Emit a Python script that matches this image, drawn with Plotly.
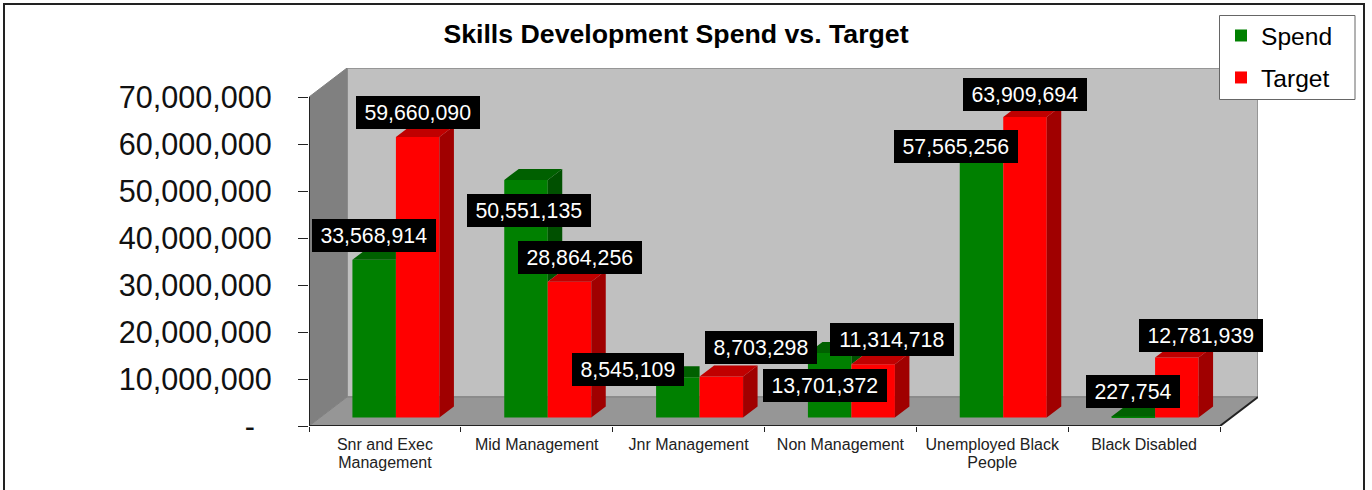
import plotly.graph_objects as go

categories = ["Snr and Exec<br>Management", "Mid Management", "Jnr Management",
              "Non Management", "Unemployed Black<br>People", "Black Disabled"]
spend = [33568914, 50551135, 8545109, 13701372, 57565256, 227754]
target = [59660090, 28864256, 8703298, 11314718, 63909694, 12781939]
y_ticks = [0, 10000000, 20000000, 30000000, 40000000, 50000000, 60000000, 70000000]
y_tick_labels = ["-\u00a0\u00a0", "10,000,000", "20,000,000", "30,000,000", "40,000,000",
                 "50,000,000", "60,000,000", "70,000,000"]

# label offsets from the front-top centre of each bar, in pixels (dx right, dy down)
spend_label_shift = [(0, -24), (2.5, 30.5), (-50, -8), (-5, 32.5), (-26, 0), (0, -25)]
target_label_shift = [(0, -24.5), (10, -24), (40, -29), (19.3, -25), (0, -23), (24, -22)]

W, H = 1372, 490
L, R, T, B = 309, 1258, 68, 426
CAT_PX = (1220 - 309) / 6
PX_PER_VAL = 47 / 1e7
DEPTH_X, DEPTH_Y = 38, 29
ux = lambda px: px / CAT_PX
uy = lambda px: px / PX_PER_VAL
x0 = -0.5
x_end = 5.5
DX, DY = ux(DEPTH_X), uy(DEPTH_Y)
BAR_W = ux(43.5)
FX, FY = ux(11), uy(8.5)      # bar front plane
SX, SY = ux(14.5), uy(11)     # bar depth
TOP = 7e7

RED, RED_SIDE, RED_TOP = "#ff0000", "#a00000", "#c00000"
GRN, GRN_SIDE, GRN_TOP = "#008000", "#005000", "#006000"
FONT = "Liberation Sans"

xs = list(range(6))
fig = go.Figure()
fig.add_bar(x=xs, y=spend, base=FY, width=BAR_W, offset=FX - BAR_W, marker=dict(color=GRN, line_width=0),
            name="Spend", legendgroup="a")
fig.add_bar(x=xs, y=target, base=FY, width=BAR_W, offset=FX, marker=dict(color=RED, line_width=0),
            name="Target", legendgroup="b")


def poly_trace(polys, color):
    px, py = [], []
    for p in polys:
        px += [a for a, _ in p] + [p[0][0], None]
        py += [b for _, b in p] + [p[0][1], None]
    fig.add_scatter(x=px, y=py, mode="lines", fill="toself", fillcolor=color,
                    line=dict(width=0, color=color), showlegend=False, hoverinfo="skip")


g_side, g_top, r_side, r_top = [], [], [], []
for i, (g, r) in enumerate(zip(spend, target)):
    gl, m, rr = i + FX - BAR_W, i + FX, i + FX + BAR_W
    gy, ry = g + FY, r + FY
    if g > r:
        g_side.append([(m, gy), (m + SX, gy + SY), (m + SX, ry + SY), (m, ry)])
        g_top.append([(gl, gy), (m, gy), (m + SX, gy + SY), (gl + SX, gy + SY)])
    else:
        g_top.append([(gl, gy), (m, gy), (m, gy + SY), (gl + SX, gy + SY)])
    r_side.append([(rr, FY), (rr + SX, FY + SY), (rr + SX, ry + SY), (rr, ry)])
    r_top.append([(m, ry), (rr, ry), (rr + SX, ry + SY), (m + SX, ry + SY)])

poly_trace(g_side, GRN_SIDE)
poly_trace(g_top, GRN_TOP)
poly_trace(r_side, RED_SIDE)
poly_trace(r_top, RED_TOP)


def path(points):
    return "M" + "L".join(f"{a},{b}" for a, b in points) + "Z"


shapes = [
    dict(type="path", path=path([(x0 + DX, DY), (x_end + DX, DY), (x_end + DX, TOP + DY), (x0 + DX, TOP + DY)]),
         xref="x", yref="y", layer="below", fillcolor="#c0c0c0", line=dict(color="#969696", width=2)),
    dict(type="path", path=path([(x0, 0), (x0 + DX, DY), (x0 + DX, TOP + DY), (x0, TOP)]),
         xref="x", yref="y", layer="below", fillcolor="#808080", line=dict(color="#808080", width=1)),
    dict(type="path", path=path([(x0, 0), (x_end, 0), (x_end + DX, DY), (x0 + DX, DY)]),
         xref="x", yref="y", layer="below", fillcolor="#969696", line=dict(color="#808080", width=1)),
    dict(type="line", x0=x0, x1=x0, y0=0, y1=TOP, xref="x", yref="y", line=dict(color="#222222", width=2)),
    dict(type="line", x0=x0, x1=x_end, y0=0, y1=0, xref="x", yref="y", line=dict(color="#222222", width=2)),
    dict(type="line", x0=x_end, x1=x_end + DX, y0=0, y1=DY, xref="x", yref="y", line=dict(color="#222222", width=2)),
    # outer frame
    dict(type="rect", xref="paper", yref="paper",
         x0=(4 - L) / (R - L), x1=(1364 - L) / (R - L), y0=(B - 520) / (B - T), y1=(B - 4) / (B - T),
         line=dict(color="#222222", width=2), fillcolor="rgba(0,0,0,0)", layer="below"),
    # legend frame
    dict(type="rect", xref="paper", yref="paper",
         x0=(1219.5 - L) / (R - L), x1=(1355 - L) / (R - L), y0=(B - 99.5) / (B - T), y1=(B - 15.5) / (B - T),
         line=dict(color="#666666", width=1), fillcolor="#ffffff", layer="above"),
]

annotations = []


def fmt(v):
    return f"{v:,}"


for sign, values, shifts in ((-1, spend, spend_label_shift), (1, target, target_label_shift)):
    for i, v in enumerate(values):
        text = fmt(v)
        digits = sum(c.isdigit() for c in text)
        w = (digits * 0.556 + (len(text) - digits) * 0.278) * 21.3 + 17
        annotations.append(dict(
            x=i + FX + sign * BAR_W / 2, y=v + FY, xref="x", yref="y", text=text, showarrow=False,
            xshift=shifts[i][0], yshift=-shifts[i][1], xanchor="center", yanchor="middle",
            font=dict(family=FONT, size=21.3, color="#ffffff"), bgcolor="#000000",
            width=w, height=33, borderpad=0, borderwidth=0, align="center", valign="middle"))

# the small base font sets the line spacing of the two-line labels; the span sets the glyph size
cat_text = ['<span style="font-size:16px">' + c.replace("<br>", '</span><br><span style="font-size:16px">') + "</span>"
            for c in categories]

fig.update_layout(
    width=W, height=H, margin=dict(l=L, r=W - R, t=T, b=H - B, autoexpand=False),
    paper_bgcolor="#ffffff", plot_bgcolor="rgba(0,0,0,0)", barmode="overlay",
    font=dict(family=FONT, color="#000000"),
    title=dict(text="<b>Skills Development Spend vs. Target</b>", x=676 / W, xanchor="center",
               y=1 - 34 / H, yanchor="middle", yref="container", font=dict(family=FONT, size=26.7, color="#000000")),
    xaxis=dict(type="linear", range=[x0, x_end + DX], tickvals=xs, ticktext=cat_text, ticks="",
               showgrid=False, zeroline=False, showline=False, ticklabelstandoff=9,
               tickfont=dict(family=FONT, size=13.8, color="#222222"), tickangle=0,
               minor=dict(tickvals=[k + x0 for k in range(7)], ticks="outside", ticklen=5, tickwidth=1,
                          tickcolor="#222222", showgrid=False)),
    yaxis=dict(range=[0, TOP + DY], tickvals=y_ticks, ticktext=y_tick_labels, ticks="outside", ticklen=10,
               tickwidth=1, tickcolor="#222222", showgrid=False, zeroline=False, showline=False,
               ticklabelstandoff=20, tickfont=dict(family=FONT, size=30.6, color="#111111")),
    legend=dict(x=(1221 - L) / (R - L), y=(B - 13) / (B - T), xanchor="left", yanchor="top",
                font=dict(family=FONT, size=24.6, color="#000000"), bgcolor="rgba(0,0,0,0)", borderwidth=0,
                traceorder="grouped", tracegroupgap=7, itemclick=False, itemdoubleclick=False),
    shapes=shapes, annotations=annotations, hovermode=False,
)

fig.write_html("out.html", config={"displayModeBar": False},
               post_script="document.body.style.margin='0';document.body.style.overflow='hidden';")
